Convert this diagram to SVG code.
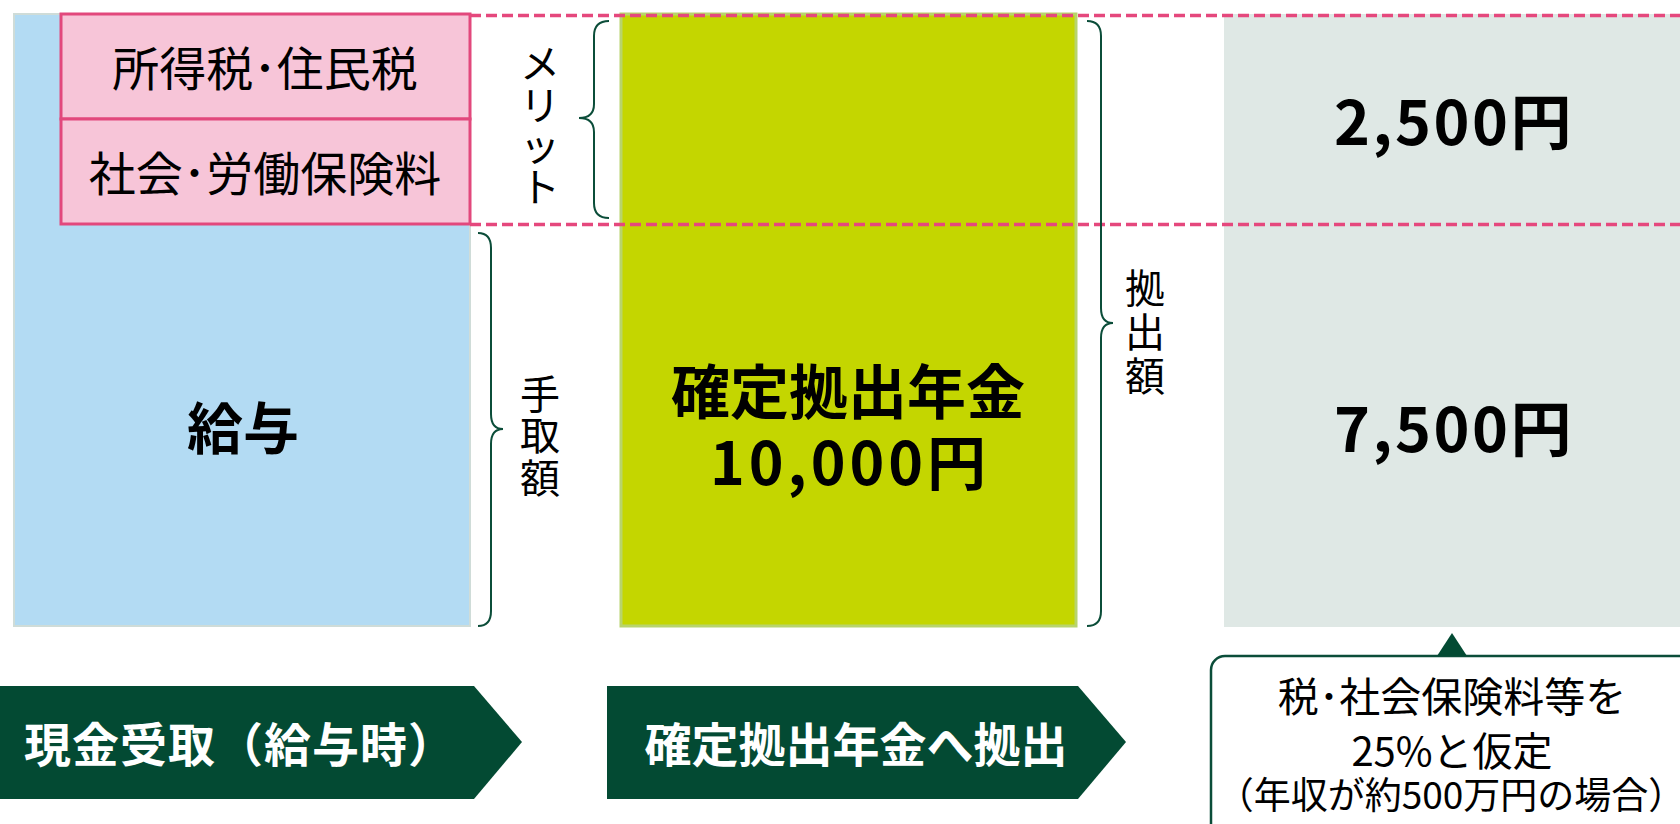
<svg xmlns="http://www.w3.org/2000/svg" width="1680" height="824" viewBox="0 0 1680 824">
<style>
text{font-family:"Noto Sans CJK JP","Noto Sans",sans-serif;fill:#000}
.b{font-weight:bold}
.c{text-anchor:middle}
.brace{fill:none;stroke:#0b4d39;stroke-width:2}
.dash{stroke:#e5487d;stroke-width:3.5;stroke-dasharray:11 5;fill:none}
.pink{fill:#f7c5d8;stroke:#e2487c;stroke-width:3}
.banner{fill:#034a33}
.wt{fill:#fff;font-weight:bold;text-anchor:middle}
</style>
<rect width="1680" height="824" fill="#fff"/>
<g id="salary">
<rect x="14" y="14" width="456" height="612" fill="#b3dbf3" stroke="#cfdcd8" stroke-width="2"/>
<text class="b c" x="243" y="449" font-size="56">給与</text>
</g>
<g id="tax-box">
<rect class="pink" x="61" y="14" width="409" height="105"/>
<text class="c" x="265" y="86" font-size="47">所得税･住民税</text>
</g>
<g id="social-box">
<rect class="pink" x="61" y="119" width="409" height="105"/>
<text class="c" x="265" y="191" font-size="47">社会･労働保険料</text>
</g>
<g id="dc">
<rect x="621" y="14" width="455" height="612" fill="#c4d600" stroke="#b8d46c" stroke-width="3"/>
<text class="b c" x="848" y="414" font-size="59">確定拠出年金</text>
<text class="b c" x="850" y="485" font-size="59" letter-spacing="4">10,000円</text>
</g>
<g id="result">
<rect x="1224" y="14" width="470" height="613" fill="#dfe8e5"/>
<text class="b c" x="1454" y="145" font-size="61" letter-spacing="2.5">2,500円</text>
<text class="b c" x="1454" y="452" font-size="61" letter-spacing="2.5">7,500円</text>
</g>
<g id="connectors">
<path class="dash" d="M470 15.5H1680M470 224.5H1680"/>
<path class="brace" d="M609 21Q594 21 594 36V104Q594 118 579 118Q594 118 594 132V203Q594 218 609 218"/>
<path class="brace" d="M478 233Q491 233 491 248V414Q491 429 503 429Q491 429 491 444V611Q491 626 478 626"/>
<path class="brace" d="M1087 21Q1101 21 1101 36V308Q1101 323 1113 323Q1101 323 1101 338V611Q1101 626 1087 626"/>
</g>
<g id="merit-label">
<text class="c" font-size="40"><tspan x="540" y="78">メ</tspan><tspan x="540" y="120">リ</tspan><tspan x="540" y="161">ッ</tspan><tspan x="540" y="202">ト</tspan></text>
</g>
<g id="takehome-label">
<text class="c" font-size="40"><tspan x="540" y="409">手</tspan><tspan x="540" y="450">取</tspan><tspan x="540" y="493">額</tspan></text>
</g>
<g id="contrib-label">
<text class="c" font-size="40"><tspan x="1145" y="303">拠</tspan><tspan x="1145" y="347">出</tspan><tspan x="1145" y="391">額</tspan></text>
</g>
<g id="callout">
<rect x="1211" y="656" width="520" height="220" rx="14" fill="#fff" stroke="#0b4d39" stroke-width="2.5"/>
<path d="M1452 633L1467 656H1437Z" fill="#034a33"/>
<text class="c" x="1452" y="712" font-size="41">税･社会保険料等を</text>
<text class="c" x="1452" y="766" font-size="40">25%と仮定</text>
<text class="c" x="1451" y="809" font-size="37">（年収が約500万円の場合）</text>
</g>
<g id="step1">
<path class="banner" d="M0 686H474L522 742L474 799H0Z"/>
<text class="wt" x="240" y="762" font-size="47" letter-spacing="1">現金受取（給与時）</text>
</g>
<g id="step2">
<path class="banner" d="M607 686H1078L1126 742L1078 799H607Z"/>
<text class="wt" x="856" y="762" font-size="47">確定拠出年金へ拠出</text>
</g>
</svg>
